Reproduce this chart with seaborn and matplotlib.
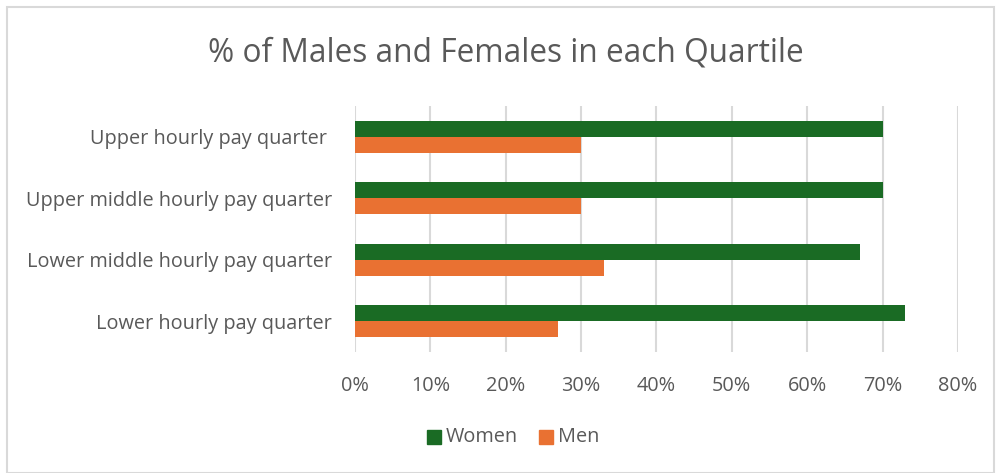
import pandas as pd
import matplotlib.pyplot as plt
import seaborn as sns
from matplotlib.patches import Rectangle
from matplotlib.ticker import PercentFormatter

quarters = ['Upper hourly pay quarter ', 'Upper middle hourly pay quarter',
            'Lower middle hourly pay quarter', 'Lower hourly pay quarter']
women = [70, 70, 67, 73]
men = [30, 30, 33, 27]
x_ticks = [0, 10, 20, 30, 40, 50, 60, 70, 80]

GREEN = '#1a6b24'
ORANGE = '#e97132'
TEXT = '#595959'
GRID = '#d9d9d9'

df = pd.DataFrame({'quarter': quarters * 2,
                   'pct': women + men,
                   'sex': ['Women'] * 4 + ['Men'] * 4})

sns.set_theme(style='white')
plt.rcParams['font.family'] = ['Open Sans', 'DejaVu Sans']

fig = plt.figure(figsize=(9.96, 4.73), dpi=100)
ax = fig.add_axes([0.3564, 0.2558, 0.6054, 0.5201])

sns.barplot(data=df, y='quarter', x='pct', hue='sex', order=quarters,
            palette={'Women': GREEN, 'Men': ORANGE}, width=0.52,
            orient='h', errorbar=None, saturation=1, ax=ax, legend=False,
            linewidth=0)

ax.set_xlim(0, 80)
ax.set_xticks(x_ticks)
ax.xaxis.set_major_formatter(PercentFormatter(decimals=0))
ax.set_ylim(3.5, -0.5)
ax.grid(axis='x', color=GRID, linewidth=1.5)
ax.set_axisbelow(True)
for s in ax.spines.values():
    s.set_visible(False)
ax.set_xlabel('')
ax.set_ylabel('')
ax.tick_params(axis='x', colors=TEXT, labelsize=14.3, length=0, pad=17)
ax.tick_params(axis='y', colors=TEXT, labelsize=14.3, length=0, pad=16.5)

fig.text(0.508, 0.889, '% of Males and Females in each Quartile',
         ha='center', va='center', fontsize=22.8, color=TEXT)

# legend
for x0, lab, col in [(0.4287, 'Women', GREEN), (0.5412, 'Men', ORANGE)]:
    fig.patches.append(Rectangle((x0, 0.061), 0.0141, 0.0296,
                                 transform=fig.transFigure, color=col))
    fig.text(x0 + 0.019, 0.076, lab, ha='left', va='center',
             fontsize=14.3, color=TEXT)

fig.patches.append(Rectangle((0.0075, 0.0), 0.99, 0.985, transform=fig.transFigure,
                             fill=False, edgecolor=GRID, linewidth=1.5))

fig.savefig('out.png', dpi=100)
